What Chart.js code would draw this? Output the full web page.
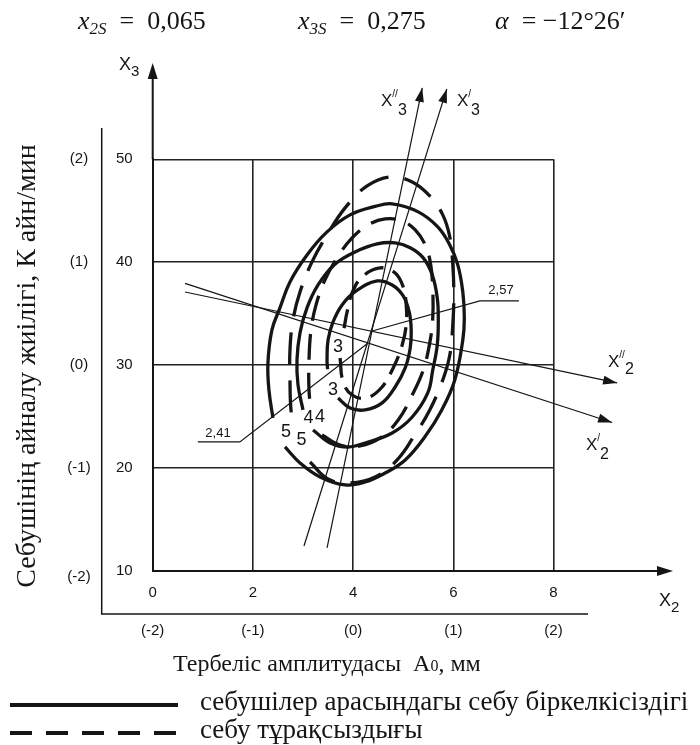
<!DOCTYPE html>
<html>
<head>
<meta charset="utf-8">
<script src="https://cdn.jsdelivr.net/npm/chart.js@4.4.1/dist/chart.umd.min.js"></script>
<style>
  html, body { margin: 0; padding: 0; background: #fff; }
</style>
</head>
<body>
<canvas id="chart" width="700" height="745"></canvas>
<script>
// осьтер: натурал мәндер және кодталған деңгейлер
var xTicks = [0, 2, 4, 6, 8];
var yTicks = [10, 20, 30, 40, 50];
var xCoded = ['(-2)', '(-1)', '(0)', '(1)', '(2)'];
var yCoded = ['(-2)', '(-1)', '(0)', '(1)', '(2)'];

// тұтас сызықтар - себушілер арасындагы себу біркелкісіздігі (3, 4, 5 деңгейлер)
var solid3 = [[3.70,26.81],[3.94,25.84],[4.24,25.65],[4.58,26.33],[4.84,27.88],[5.04,29.73],[5.14,31.67],[5.16,33.42],[5.12,35.17],[5.00,36.73],[4.78,37.79],[4.48,38.18],[4.06,37.21],[3.78,35.85],[3.60,34.20],[3.50,32.45],[3.48,30.51],[3.49,29.60]];
var solid4 = [[3.20,23.70],[3.54,22.44],[3.90,22.05],[4.24,22.44],[4.78,23.41],[5.18,24.96],[5.49,27.30],[5.59,29.53],[5.68,31.96],[5.70,34.39],[5.68,36.53],[5.58,38.77],[5.40,40.42],[5.14,41.40],[4.84,41.88],[4.48,41.78],[4.04,41.00],[3.62,39.74],[3.30,37.79],[3.08,35.56],[2.94,33.13],[2.88,30.51],[2.90,28.08],[3.00,25.65]];
var solid5 = [[2.64,22.05],[2.94,20.50],[3.34,19.14],[3.84,18.36],[4.24,18.65],[4.64,19.52],[5.04,20.79],[5.43,23.02],[5.77,25.65],[6.03,28.56],[6.19,32.45],[6.22,34.59],[6.19,37.11],[6.09,39.74],[5.93,41.68],[5.69,43.43],[5.30,44.89],[4.78,45.67],[4.44,45.42],[3.94,44.60],[3.48,42.95],[3.08,40.71],[2.74,38.09],[2.54,35.56],[2.38,33.42],[2.30,30.21],[2.32,27.59],[2.40,24.87]];

// үзік сызықтар - себу тұрақсыздығы
var dashed3 = [[3.74,30.70],[3.80,28.37],[3.98,27.10],[4.26,26.81],[4.56,27.78],[4.80,29.73],[4.98,31.96],[5.06,33.91],[5.06,35.85],[5.00,37.60],[4.84,38.96],[4.54,39.45],[4.18,38.57],[3.98,37.02],[3.88,35.17],[3.82,33.60]];
var dashed4 = [[3.38,23.22],[3.74,22.24],[4.14,22.15],[4.54,22.93],[4.90,24.67],[5.20,27.30],[5.40,29.53],[5.53,32.16],[5.59,34.59],[5.59,37.31],[5.55,39.74],[5.44,41.68],[5.24,43.14],[4.98,44.01],[4.64,44.21],[4.30,43.63],[3.98,42.36],[3.68,40.42],[3.42,38.09],[3.26,35.85],[3.16,33.42],[3.12,30.51],[3.12,27.59],[3.16,25.50]];
var dashed5 = [[3.14,20.59],[3.50,18.94],[3.94,18.55],[4.44,19.14],[4.88,20.79],[5.23,23.22],[5.53,25.65],[5.79,28.56],[5.93,30.99],[5.99,33.91],[6.01,36.82],[5.99,39.74],[5.93,42.46],[5.79,44.60],[5.53,46.44],[5.18,47.80],[4.74,48.29],[4.28,47.41],[3.84,45.28],[3.48,42.65],[3.18,40.03],[2.94,37.11],[2.80,34.39],[2.74,31.48],[2.74,28.56],[2.76,25.65],[2.82,23.90]];

// бұрылған осьтер
var axisX3a = [[3.48,12.24],[5.38,56.94]];   // X''3
var axisX3b = [[3.02,12.43],[5.87,56.84]];   // X'3
var axisX2a = [[0.645,37.11],[9.27,28.27]];  // X''2
var axisX2b = [[0.645,37.94],[9.17,24.43]];  // X'2
var lead257 = [[4.38,33.32],[6.53,36.24],[7.31,36.24]];
var lead241 = [[4.30,32.16],[1.74,22.54],[0.90,22.54]];

// деңгей белгілері
var levelText = ['3', '3', '4', '4', '5', '5'];
var levelX = [3.70, 3.60, 3.11, 3.34, 2.66, 2.97];
var levelY = [31.80, 27.59, 24.84, 25.00, 23.54, 22.73];

var SERIF = '"Liberation Serif", "Times New Roman", serif';
var SANS = '"Liberation Sans", Arial, sans-serif';
var INK = '#151515';

function pts(a) {
  return a.map(function(p) { return {x: p[0], y: p[1]}; });
}

function curve(a, dash) {
  return {
    data: pts(a), showLine: true, pointRadius: 0, tension: 0.4,
    borderColor: INK, borderWidth: 3.3, borderDash: dash || [],
    clip: false, fill: false
  };
}

function thin(a, arrow) {
  return {
    data: pts(a), showLine: true, pointRadius: 0, tension: 0,
    borderColor: INK, borderWidth: 1.2, clip: false, fill: false, arrow: arrow
  };
}

function head(ctx, x0, y0, x1, y1, len, half) {
  var ang = Math.atan2(y1 - y0, x1 - x0);
  ctx.save();
  ctx.translate(x1, y1);
  ctx.rotate(ang);
  ctx.beginPath();
  ctx.moveTo(0, 0);
  ctx.lineTo(-len, -half);
  ctx.lineTo(-len, half);
  ctx.closePath();
  ctx.fillStyle = INK;
  ctx.fill();
  ctx.restore();
}

function runs(ctx, x, y, parts) {
  parts.forEach(function(p) {
    ctx.font = p[1];
    ctx.fillText(p[0], x, y + (p[2] || 0));
    x += ctx.measureText(p[0]).width;
  });
}

var decor = {
  id: 'decor',
  afterDatasetsDraw: function(chart) {
    var ctx = chart.ctx;
    chart.data.datasets.forEach(function(ds, i) {
      if (!ds.arrow) return;
      var d = chart.getDatasetMeta(i).data;
      var a = d[d.length - 2], b = d[d.length - 1];
      head(ctx, a.x, a.y, b.x, b.y, 14, 4.5);
    });
  },
  afterDraw: function(chart) {
    var ctx = chart.ctx;
    var xs = chart.scales.x, ys = chart.scales.y;
    var area = chart.chartArea;
    var x0 = xs.getPixelForValue(0), y0 = ys.getPixelForValue(10);

    ctx.save();
    // продолжение главных осей со стрелками
    ctx.strokeStyle = INK;
    ctx.lineWidth = 2;
    ctx.beginPath();
    ctx.moveTo(x0, area.top);
    ctx.lineTo(x0, 72);
    ctx.moveTo(area.right, y0);
    ctx.lineTo(662, y0);
    ctx.stroke();
    head(ctx, x0, 100, x0, 63, 16, 5);
    head(ctx, 600, y0, 673, y0, 16, 5);

    // рамка для кодированных значений
    ctx.lineWidth = 1.5;
    ctx.beginPath();
    ctx.moveTo(101.7, 128);
    ctx.lineTo(101.7, 614);
    ctx.lineTo(588, 614);
    ctx.stroke();

    ctx.fillStyle = INK;
    ctx.textBaseline = 'middle';
    ctx.textAlign = 'center';
    ctx.font = '15px ' + SANS;
    yTicks.forEach(function(v, i) {
      ctx.fillText(yCoded[i], 79, ys.getPixelForValue(v) + (i === 0 ? 6 : 0));
    });
    xTicks.forEach(function(v, i) {
      ctx.fillText(xCoded[i], xs.getPixelForValue(v), 631);
    });

    // номера уровней
    ctx.font = '18px ' + SANS;
    levelText.forEach(function(t, i) {
      ctx.fillText(t, xs.getPixelForValue(levelX[i]), ys.getPixelForValue(levelY[i]));
    });
    ctx.font = '13px ' + SANS;
    ctx.fillText('2,57', 501, 290);
    ctx.fillText('2,41', 218, 433);

    // подписи осей
    ctx.textAlign = 'left';
    ctx.textBaseline = 'alphabetic';
    runs(ctx, 119, 70, [['X', '18px ' + SANS], ['3', '15px ' + SANS, 6]]);
    runs(ctx, 659, 606, [['X', '18px ' + SANS], ['2', '15px ' + SANS, 6]]);
    runs(ctx, 381, 106, [['X', '17px ' + SANS], ['//', '10px ' + SANS, -9], ['3', '16px ' + SANS, 9]]);
    runs(ctx, 457, 106, [['X', '17px ' + SANS], ['/', '10px ' + SANS, -9], ['3', '16px ' + SANS, 9]]);
    runs(ctx, 608, 367, [['X', '17px ' + SANS], ['//', '10px ' + SANS, -9], ['2', '16px ' + SANS, 7]]);
    runs(ctx, 586, 450, [['X', '17px ' + SANS], ['/', '10px ' + SANS, -9], ['2', '16px ' + SANS, 9]]);

    // формулы сверху
    var it = 'italic 26px ' + SERIF, sub = 'italic 17px ' + SERIF, rm = '26px ' + SERIF;
    runs(ctx, 78, 29, [['x', it], ['2S', sub, 5], ['  =  0,065', rm]]);
    runs(ctx, 298, 29, [['x', it], ['3S', sub, 5], ['  =  0,275', rm]]);
    runs(ctx, 495, 29, [['\u03b1', it], ['  = \u221212\u00b026\u2032', rm]]);

    // названия осей
    runs(ctx, 173, 671, [['Тербеліс амплитудасы  A', '24px ' + SERIF], ['0', '16px ' + SERIF], [', мм', '24px ' + SERIF]]);
    ctx.save();
    ctx.translate(28, 366);
    ctx.rotate(-Math.PI / 2);
    ctx.textAlign = 'center';
    ctx.textBaseline = 'middle';
    ctx.font = '28px ' + SERIF;
    ctx.fillText('Себушінің айналу жиілігі, К айн/мин', 0, 0);
    ctx.restore();

    // легенда
    ctx.lineWidth = 4;
    ctx.beginPath();
    ctx.moveTo(10, 705);
    ctx.lineTo(178, 705);
    ctx.stroke();
    ctx.setLineDash([22, 14]);
    ctx.beginPath();
    ctx.moveTo(10, 733);
    ctx.lineTo(178, 733);
    ctx.stroke();
    ctx.setLineDash([]);
    ctx.font = '27px ' + SERIF;
    ctx.textBaseline = 'middle';
    ctx.fillText('себушілер арасындагы себу біркелкісіздігі', 200, 703);
    ctx.fillText('себу тұрақсыздығы', 200, 731);
    ctx.restore();
  }
};

new Chart(document.getElementById('chart'), {
  type: 'scatter',
  data: {
    datasets: [
      curve(solid3), curve(solid4), curve(solid5),
      curve(dashed3, [20, 10]), curve(dashed4, [26, 13]), curve(dashed5, [32, 16]),
      thin(axisX3a, true), thin(axisX3b, true), thin(axisX2a, true), thin(axisX2b, true),
      thin(lead257), thin(lead241)
    ]
  },
  options: {
    responsive: false,
    animation: false,
    layout: { padding: { left: 0, top: 159.3, right: 146.5, bottom: 0 } },
    plugins: { legend: { display: false }, tooltip: { enabled: false } },
    scales: {
      x: {
        type: 'linear', min: 0, max: 8,
        afterBuildTicks: function(s) { s.ticks = xTicks.map(function(v) { return {value: v}; }); },
        afterFit: function(s) { s.height = 174; },
        grid: { color: '#222', lineWidth: 1.6, drawTicks: false },
        border: { color: INK, width: 2 },
        ticks: { color: INK, padding: 13, font: { family: SANS, size: 15 } }
      },
      y: {
        type: 'linear', min: 10, max: 50,
        afterBuildTicks: function(s) { s.ticks = yTicks.map(function(v) { return {value: v}; }); },
        afterFit: function(s) { s.width = 152.7; },
        grid: { color: '#222', lineWidth: 1.6, drawTicks: false },
        border: { color: INK, width: 2 },
        ticks: { color: INK, padding: 20, font: { family: SANS, size: 15 } }
      }
    }
  },
  plugins: [decor]
});
</script>
</body>
</html>
